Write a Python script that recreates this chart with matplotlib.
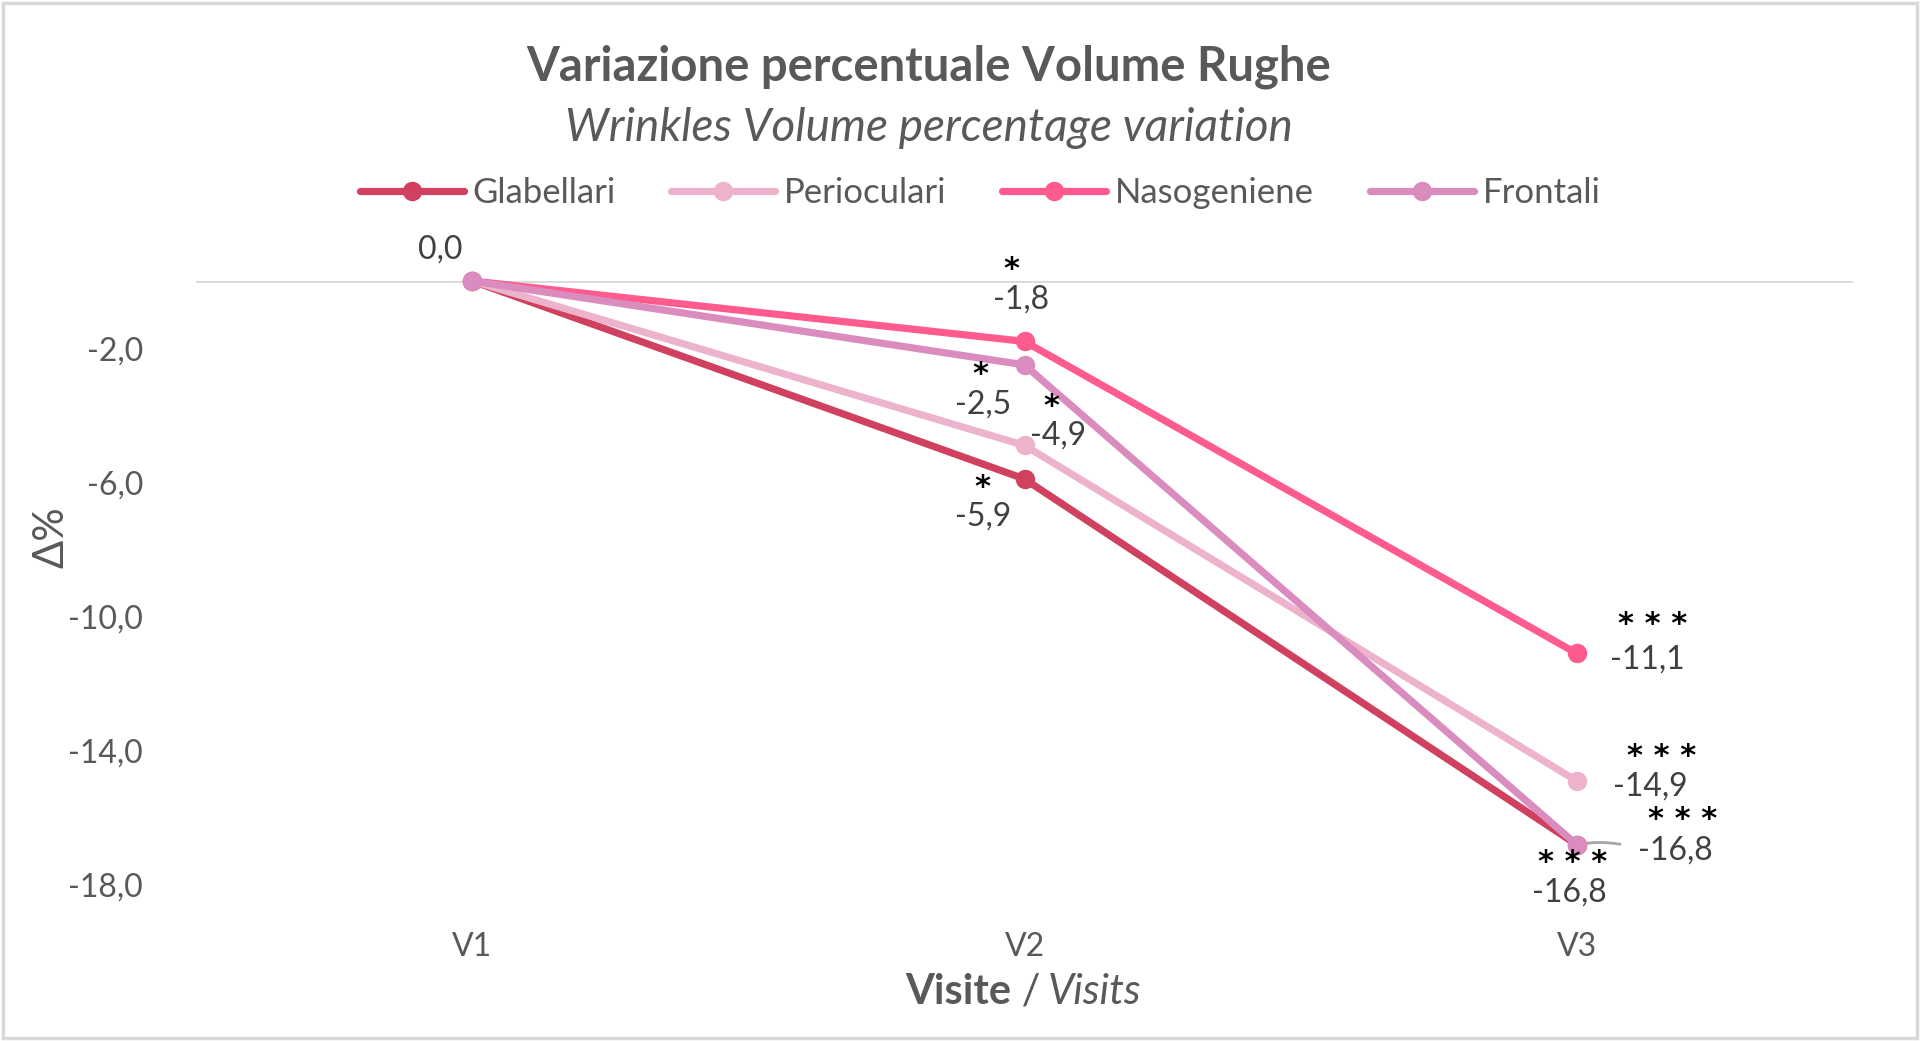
import matplotlib
matplotlib.use("Agg")
import matplotlib.pyplot as plt
from matplotlib.patches import Rectangle

# --- dati ---
visite = ["V1", "V2", "V3"]
glabellari = [0.0, -5.9, -16.8]
perioculari = [0.0, -4.9, -14.9]
nasogeniene = [0.0, -1.8, -11.1]
frontali = [0.0, -2.5, -16.8]
nomi_serie = ["Glabellari", "Perioculari", "Nasogeniene", "Frontali"]
# significatività per visita (V2, V3)
signif_glab = ["*", "***"]
signif_peri = ["*", "***"]
signif_naso = ["*", "***"]
signif_front = ["*", "***"]
tick_y = [-2, -6, -10, -14, -18]
tick_y_labels = ["-2,0", "-6,0", "-10,0", "-14,0", "-18,0"]

colori = ["#D0405F", "#EDB3CC", "#FF5B8E", "#DA8CBE"]
GRIGIO = "#595959"
plt.rcParams["font.family"] = ["Lato", "DejaVu Sans"]

serie = [glabellari, perioculari, nasogeniene, frontali]
signif = [signif_glab, signif_peri, signif_naso, signif_front]

# offset (pixel) delle etichette: (numero dx, dy), (stelle dx, dy)
off_v2 = [((-41, -38), (-42, -9)),
          ((34, 10), (27, 39)),
          ((-3, 42), (-13, 72)),
          ((-41, -40), (-44, -10))]
off_v3 = [((-7, -48), (-4, -18)),
          ((73, -6), (85, 24)),
          ((70, -6), (76, 29)),
          ((99, -6), (106, 25))]

fig = plt.figure(figsize=(19.2, 10.41), dpi=100)
ax = fig.add_axes([196 / 1920, 1 - 885 / 1041, (1853 - 196) / 1920, (885 - 281) / 1041])
x = list(range(len(visite)))

ax.axhline(0, color="#D9D9D9", lw=2, zorder=1)
for i, (vals, nome, col) in enumerate(zip(serie, nomi_serie, colori)):
    ax.plot(x, vals, color=col, lw=5.2, marker="o", ms=13, label=nome,
            zorder=3 + i, clip_on=False, solid_capstyle="round")

ax.set_xlim(-0.5, 2.5)
ax.set_ylim(-18, 0)
ax.set_yticks(tick_y)
ax.set_yticklabels(tick_y_labels)
ax.set_xticks(x)
ax.set_xticklabels(visite)
for s in ax.spines.values():
    s.set_visible(False)
ax.tick_params(axis="both", length=0, labelsize=23, labelcolor=GRIGIO)
ax.tick_params(axis="x", pad=34)
ax.tick_params(axis="y", pad=38)

# etichette dati
ax.annotate("0,0", (0, glabellari[0]), xytext=(-32, 31), textcoords="offset pixels",
            ha="center", va="center", fontsize=23, color="#404040", zorder=10)
for vals, sg, o2, o3 in zip(serie, signif, off_v2, off_v3):
    for j, o in zip([1, 2], [o2, o3]):
        testo = f"{vals[j]:.1f}".replace(".", ",")
        ax.annotate(testo, (j, vals[j]), xytext=o[0], textcoords="offset pixels",
                    ha="center", va="center", fontsize=23, color="#404040", zorder=10)
        ax.annotate(" ".join(sg[j - 1]), (j, vals[j]), xytext=o[1], textcoords="offset pixels",
                    ha="center", va="center", fontsize=22, fontweight="bold",
                    family="DejaVu Sans", color="black", zorder=10)

# linea guida per l'etichetta Frontali V3
ax.annotate("", xy=(2, frontali[2]), xytext=(46, 0), textcoords="offset pixels",
            arrowprops=dict(arrowstyle="-", color="#A6A6A6", lw=2,
                            connectionstyle="arc3,rad=0.1"), zorder=2)

# titoli
fig.text(929 / 1920, 1 - 67 / 1041, "Variazione percentuale Volume Rughe",
         ha="center", va="center", fontsize=34, fontweight="bold", color=GRIGIO)
fig.text(929 / 1920, 1 - 128 / 1041, "Wrinkles Volume percentage variation",
         ha="center", va="center", fontsize=33, fontstyle="italic", color=GRIGIO)

leg = ax.legend(loc="center", bbox_to_anchor=(980 / 1920, 1 - 193 / 1041),
                bbox_transform=fig.transFigure, ncol=4, frameon=False,
                fontsize=25, handlelength=3.0, handletextpad=0.25, columnspacing=1.6)
for t in leg.get_texts():
    t.set_color(GRIGIO)

# titoli assi
fig.text(1011 / 1920, 1 - 992 / 1041, "Visite", ha="right", va="center",
         fontsize=30, fontweight="bold", color=GRIGIO)
fig.text(1011 / 1920, 1 - 992 / 1041, " / ", ha="left", va="center",
         fontsize=30, color=GRIGIO)
fig.text(1048 / 1920, 1 - 992 / 1041, "Visits", ha="left", va="center",
         fontsize=30, fontstyle="italic", color=GRIGIO)
fig.text(51 / 1920, 1 - 537 / 1041, "Δ%", ha="center", va="center", rotation=90,
         fontsize=30, color=GRIGIO)

# bordo del grafico
fig.patches.append(Rectangle((0.0015, 0.0025), 0.997, 0.995, transform=fig.transFigure,
                             fill=False, edgecolor="#D9D9D9", lw=2.5))

fig.savefig("out.png", dpi=100, facecolor="white")
